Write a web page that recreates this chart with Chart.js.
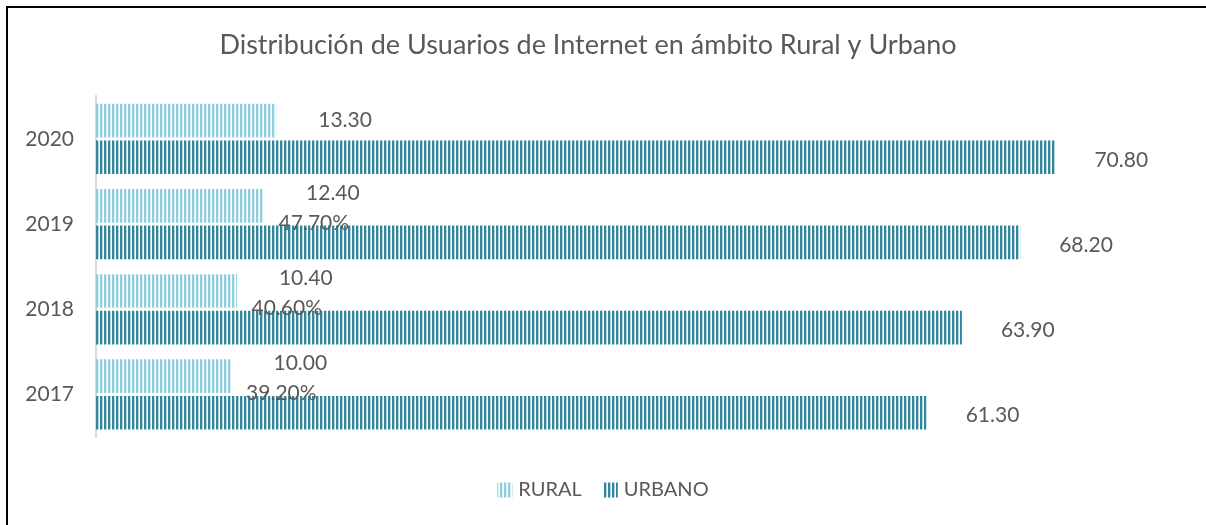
<!DOCTYPE html>
<html>
<head>
<meta charset="utf-8">
<script src="https://cdn.jsdelivr.net/npm/chart.js@4"></script>
<style>
  html, body { margin: 0; padding: 0; background: #fff; overflow: hidden; }
  #wrap { position: relative; width: 1206px; height: 525px; }
  #frame { position: absolute; left: 6px; top: 6px; width: 1230px; height: 550px; border: 2px solid #000; box-sizing: border-box; }
  canvas { position: absolute; left: 0; top: 0; }
</style>
</head>
<body>
<div id="wrap">
  <div id="frame"></div>
  <canvas id="chart" width="1206" height="525"></canvas>
</div>
<script>
// Chart data
const years = ['2020', '2019', '2018', '2017'];
const rural = [13.3, 12.4, 10.4, 10.0];
const urbano = [70.8, 68.2, 63.9, 61.3];
const shareLabels = ['', '47.70%', '40.60%', '39.20%'];

const FONT = 'Lato, "Open Sans", sans-serif';
const TEXT = '#595959';

// vertical stripe fill like the Excel pattern
function stripes(color) {
  const c = document.createElement('canvas');
  c.width = 4; c.height = 4;
  const g = c.getContext('2d');
  g.fillStyle = '#fff';
  g.fillRect(0, 0, 4, 4);
  g.fillStyle = color;
  g.fillRect(0, 0, 2, 4);
  g.globalAlpha = 0.35;
  g.fillRect(2, 0, 1, 4);
  return g.createPattern(c, 'repeat');
}

const ruralFill = stripes('#93cddd');
const urbanoFill = stripes('#31859c');

// value labels next to bar ends, plus the stray percent labels
const labelPlugin = {
  id: 'barLabels',
  afterDatasetsDraw(chart) {
    const ctx = chart.ctx;
    ctx.save();
    ctx.font = '21px ' + FONT;
    ctx.fillStyle = TEXT;
    ctx.textBaseline = 'middle';
    ctx.textAlign = 'left';
    chart.getDatasetMeta(0).data.forEach((bar, i) => {
      const txt = rural[i].toFixed(2);
      const x = bar.x + 42;
      const y = shareLabels[i] ? bar.y - 13 : bar.y;
      ctx.fillText(txt, x, y);
      if (shareLabels[i]) {
        const w = ctx.measureText(txt).width;
        ctx.textAlign = 'center';
        ctx.fillText(shareLabels[i], x + w / 2 - 19, bar.y + 17);
        ctx.textAlign = 'left';
      }
    });
    chart.getDatasetMeta(1).data.forEach((bar, i) => {
      ctx.fillText(urbano[i].toFixed(2), bar.x + 39, bar.y + 3);
    });
    ctx.restore();
  }
};

// legend drawn by hand so it sits where Excel put it
const legendPlugin = {
  id: 'bottomLegend',
  afterDraw(chart) {
    const ctx = chart.ctx;
    ctx.save();
    ctx.font = '20px ' + FONT;
    ctx.textBaseline = 'middle';
    const items = chart.data.datasets;
    const box = 15, gapText = 6, gapItem = 21;
    let total = 0;
    items.forEach((d, i) => {
      total += box + gapText + ctx.measureText(d.label).width + (i ? gapItem : 0);
    });
    let x = chart.width / 2 - total / 2;
    const y = 490;
    items.forEach((d, i) => {
      if (i) x += gapItem;
      ctx.fillStyle = d.backgroundColor;
      ctx.fillRect(x, y - box / 2, box, box);
      x += box + gapText;
      ctx.fillStyle = TEXT;
      ctx.fillText(d.label, x, y);
      x += ctx.measureText(d.label).width;
    });
    ctx.restore();
  }
};

new Chart(document.getElementById('chart'), {
  type: 'bar',
  data: {
    labels: years,
    datasets: [
      { label: 'RURAL', data: rural, backgroundColor: ruralFill },
      { label: 'URBANO', data: urbano, backgroundColor: urbanoFill }
    ]
  },
  options: {
    indexAxis: 'y',
    responsive: false,
    animation: false,
    categoryPercentage: 0.86,
    barPercentage: 0.92,
    layout: { padding: { left: 0, right: 30, top: 0, bottom: 88 } },
    plugins: {
      legend: { display: false },
      tooltip: { enabled: false },
      title: {
        display: true,
        text: 'Distribución de Usuarios de Internet en ámbito Rural y Urbano',
        color: TEXT,
        font: { family: FONT, size: 27, weight: 'normal' },
        padding: { top: 29, bottom: 35 }
      }
    },
    scales: {
      x: { display: false, min: 0, max: 79.7 },
      y: {
        grid: { display: false, drawTicks: false },
        border: { color: '#d9d9d9', width: 2 },
        ticks: { color: TEXT, font: { family: FONT, size: 21 }, padding: 22 },
        afterFit(scale) { scale.width = 96; }
      }
    }
  },
  plugins: [labelPlugin, legendPlugin]
});
</script>
</body>
</html>
